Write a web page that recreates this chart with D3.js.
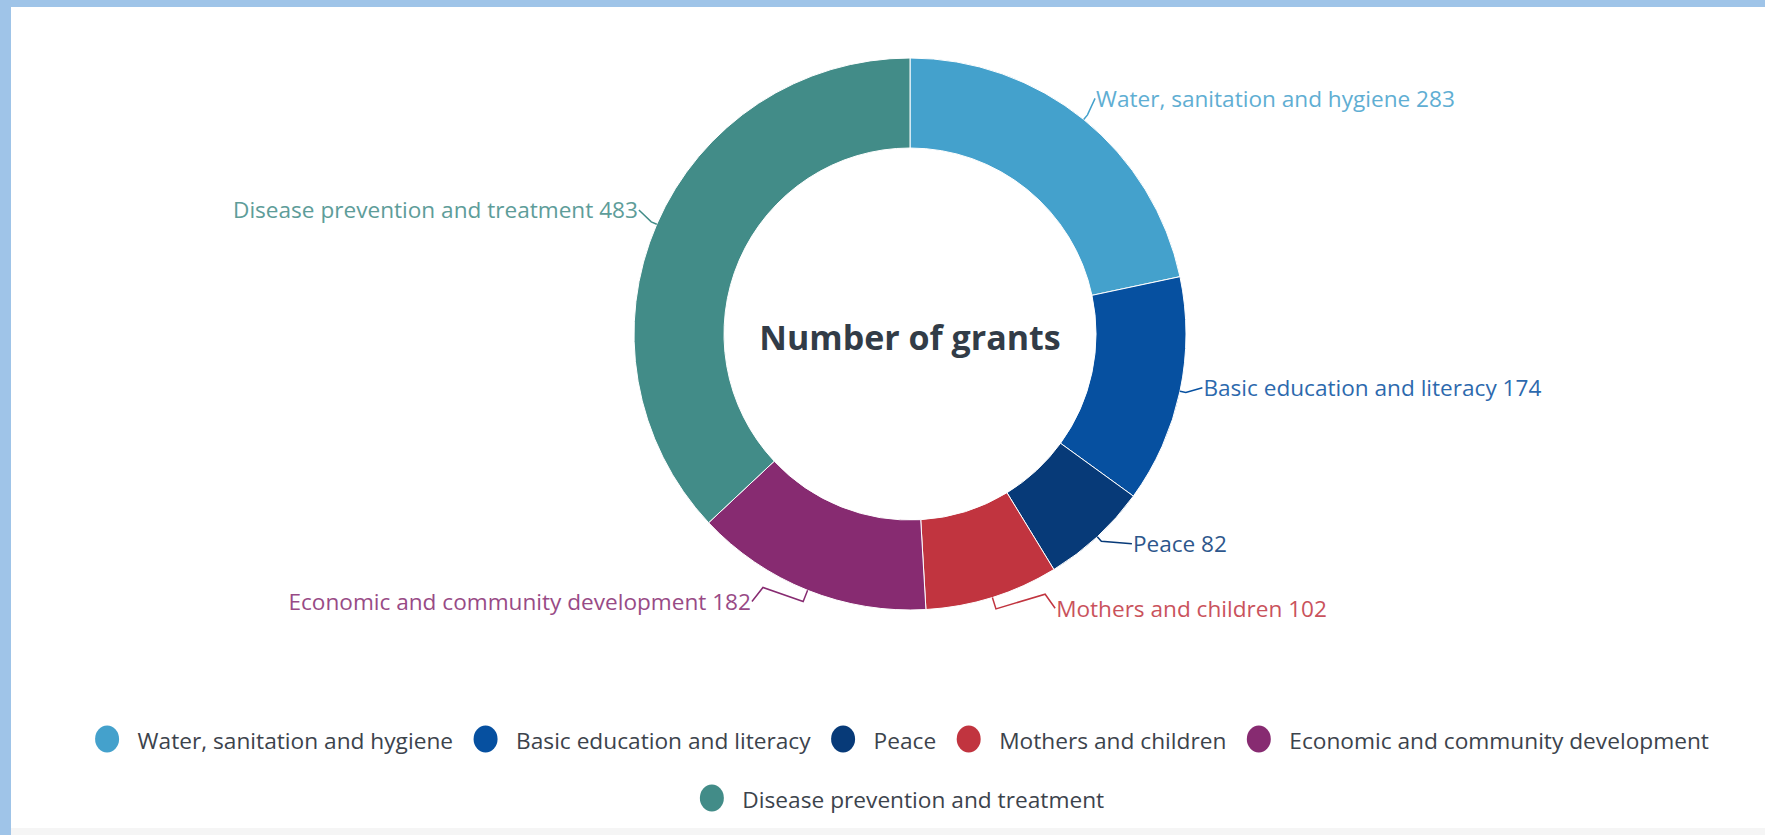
<!DOCTYPE html>
<html>
<head>
<meta charset="utf-8">
<script src="https://cdn.jsdelivr.net/npm/d3@7"></script>
<style>
  body { margin: 0; background: #fff; overflow: hidden; }
  #graf { width: 1765px; height: 835px; }
  text { font-family: "Open Sans", sans-serif; }
</style>
</head>
<body>
<div id="graf"></div>
<script>
// datos
const categorias = [
  "Water, sanitation and hygiene",
  "Basic education and literacy",
  "Peace",
  "Mothers and children",
  "Economic and community development",
  "Disease prevention and treatment"
]
const valores = [283, 174, 82, 102, 182, 483]
const colores = ["#44a1cc", "#0650a0", "#073a78", "#c1343f", "#872b71", "#428c88"]
const titulo = "Number of grants"

// layout
const anchoTotal = 1765
const altoTotal = 835
const cx = 910, cy = 334
const rOut = 276, rIn = 186
const labelDist = 26
// little nudges so labels land where the original library put them
const labelShift = [[-5, -1], [-3, -9], [17, -12], [55, -14], [-46, -13], [6, -4]]

const graf = d3.select("#graf")
const svg = graf.append("svg")
  .attr("width", anchoTotal)
  .attr("height", altoTotal)

// frame of the page
svg.append("rect").attr("x", 0).attr("y", 0).attr("width", anchoTotal).attr("height", altoTotal).attr("fill", "#fff")
svg.append("rect").attr("x", 0).attr("y", 828).attr("width", anchoTotal).attr("height", 7).attr("fill", "#f5f5f5")
svg.append("rect").attr("x", 0).attr("y", 0).attr("width", anchoTotal).attr("height", 7).attr("fill", "#9fc4e8")
svg.append("rect").attr("x", 0).attr("y", 0).attr("width", 11).attr("height", altoTotal).attr("fill", "#9fc4e8")

const datos = categorias.map((c, i) => ({ cat: c, val: valores[i], color: colores[i], i }))

const pie = d3.pie().sort(null).value((d) => d.val)
const arcos = pie(datos)
const arc = d3.arc().innerRadius(rIn).outerRadius(rOut)

const g = svg.append("g").attr("transform", `translate(${cx}, ${cy})`)

g.selectAll("path.slice")
  .data(arcos)
  .join("path")
  .attr("class", "slice")
  .attr("d", arc)
  .attr("fill", (d) => d.data.color)
  .attr("stroke", "#ffffff")
  .attr("stroke-width", 1)

g.append("text")
  .attr("x", 0)
  .attr("y", 3)
  .attr("text-anchor", "middle")
  .attr("dominant-baseline", "central")
  .attr("font-size", 34)
  .attr("font-weight", 700)
  .attr("fill", "#323c47")
  .text(titulo)

// data labels + connectors
const polar = (a, r) => [Math.sin(a) * r, -Math.cos(a) * r]

arcos.forEach((d, i) => {
  const a = (d.startAngle + d.endAngle) / 2
  const left = Math.sin(a) < 0
  const touch = polar(a, rOut)
  const nat = polar(a, rOut + labelDist)
  const end = [nat[0] + labelShift[i][0], nat[1] + labelShift[i][1]]
  const big = Math.abs(labelShift[i][0]) > 30
  const brk = polar(a, rOut + (big ? 12 : 6))
  const pts = [touch, brk]
  if (big) pts.push([end[0] + (left ? 11 : -10), end[1] - 14])
  pts.push(end)

  g.append("path")
    .attr("d", d3.line()(pts))
    .attr("fill", "none")
    .attr("stroke", d.data.color)
    .attr("stroke-width", 1.5)

  g.append("text")
    .attr("x", end[0] + (left ? -1 : 1))
    .attr("y", end[1])
    .attr("text-anchor", left ? "end" : "start")
    .attr("dominant-baseline", "central")
    .attr("font-size", 22.6)
    .attr("fill", d.data.color)
    .attr("opacity", 0.85)
    .text(`${d.data.cat} ${d.data.val}`)
})

// legend
const leg = svg.append("g")
const legFont = 22.7
const symGap = 30.5, itemGap = 32.5, maxRow = 1680, legCenter = 902
const rowY = [739, 798]
const items = datos.map((d) => {
  const t = leg.append("text")
    .attr("font-size", legFont)
    .attr("fill", "#3c434c")
    .attr("dominant-baseline", "central")
    .text(d.cat)
  return { d, t, w: t.node().getComputedTextLength() }
})
const rows = [[]]
let rowW = 0
items.forEach((it) => {
  const w = symGap + it.w
  const add = rows[rows.length - 1].length ? itemGap + w : w + 12
  if (rowW + add > maxRow && rows[rows.length - 1].length) {
    rows.push([])
    rowW = 0
  }
  rowW += rows[rows.length - 1].length ? itemGap + w : w + 12
  rows[rows.length - 1].push(it)
})
rows.forEach((row, ri) => {
  const total = d3.sum(row, (it) => symGap + it.w) + itemGap * (row.length - 1) + 12
  let x = legCenter - total / 2 + 12
  row.forEach((it) => {
    leg.append("ellipse")
      .attr("cx", x)
      .attr("cy", rowY[ri])
      .attr("rx", 12)
      .attr("ry", 13.5)
      .attr("fill", it.d.color)
    it.t.attr("x", x + symGap).attr("y", rowY[ri] + 1)
    x += symGap + it.w + itemGap
  })
})
</script>
</body>
</html>
